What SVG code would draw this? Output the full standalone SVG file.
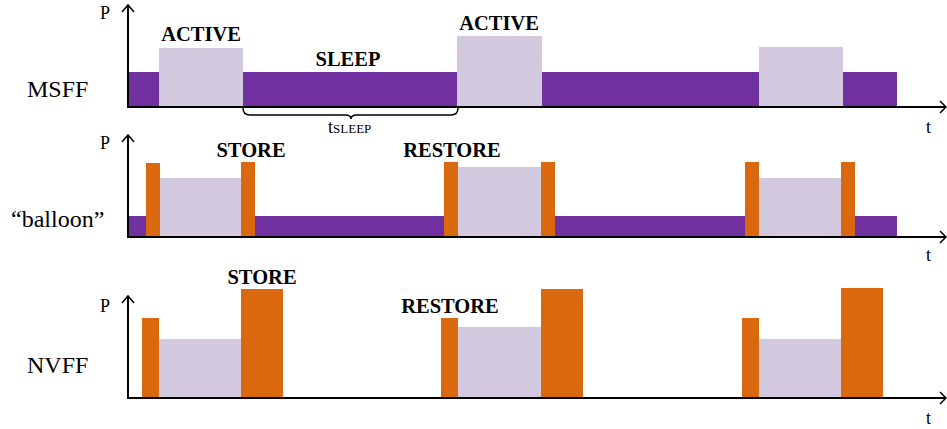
<svg xmlns="http://www.w3.org/2000/svg" width="947" height="429" viewBox="0 0 947 429">
<defs>
<style>
.ax{stroke:#000;stroke-width:2;fill:none}
.ah{stroke:#000;stroke-width:1.5;fill:none}
.pu{fill:#7030A0}
.lv{fill:#D2C9DF}
.or{fill:#D9680E}
text{font-family:"Liberation Serif","Times New Roman","DejaVu Serif",serif;fill:#000}
.lbl{font-weight:bold;font-size:20.5px}
.ttl{font-size:24px}
.axt{font-size:18px}
</style>
</defs>
<g id="msff">
<rect class="pu" x="129" y="72" width="30" height="35"/>
<rect class="lv" x="159" y="48" width="84" height="59"/>
<rect class="pu" x="243" y="72" width="214" height="35"/>
<rect class="lv" x="457" y="36" width="85" height="71"/>
<rect class="pu" x="542" y="72" width="217" height="35"/>
<rect class="lv" x="759" y="47" width="84" height="60"/>
<rect class="pu" x="843" y="72" width="54" height="35"/>
<text class="lbl" x="201" y="41" text-anchor="middle">ACTIVE</text>
<text class="lbl" x="348" y="66" text-anchor="middle">SLEEP</text>
<text class="lbl" x="499" y="30" text-anchor="middle">ACTIVE</text>
<text class="ttl" x="27" y="97">MSFF</text>
<text class="axt" x="100" y="19">P</text>
<text class="axt" x="926" y="133">t</text>
<path class="ah" d="M243,108 Q243,115 250,115 L345,115 Q351,115 351,119 Q351,115 357,115 L451,115 Q458,115 458,108"/>
<text class="axt" x="328" y="133">t<tspan font-size="13">SLEEP</tspan></text>
</g>
<g id="balloon">
<rect class="pu" x="129" y="216" width="17" height="21"/>
<rect class="or" x="146" y="163" width="14" height="74"/>
<rect class="lv" x="160" y="178" width="81" height="59"/>
<rect class="or" x="241" y="162" width="14" height="75"/>
<rect class="pu" x="255" y="216" width="189" height="21"/>
<rect class="or" x="444" y="162" width="14" height="75"/>
<rect class="lv" x="458" y="167" width="83" height="70"/>
<rect class="or" x="541" y="162" width="14" height="75"/>
<rect class="pu" x="555" y="216" width="190" height="21"/>
<rect class="or" x="745" y="162" width="14" height="75"/>
<rect class="lv" x="759" y="178" width="82" height="59"/>
<rect class="or" x="841" y="162" width="14" height="75"/>
<rect class="pu" x="855" y="216" width="42" height="21"/>
<text class="lbl" x="251" y="157" text-anchor="middle">STORE</text>
<text class="lbl" x="452" y="157" text-anchor="middle">RESTORE</text>
<text class="ttl" x="11" y="227">“balloon”</text>
<text class="axt" x="100" y="149">P</text>
<text class="axt" x="926" y="261">t</text>
</g>
<g id="nvff">
<rect class="or" x="142" y="318" width="17" height="80"/>
<rect class="lv" x="159" y="339" width="82" height="59"/>
<rect class="or" x="241" y="289" width="42" height="109"/>
<rect class="or" x="441" y="318" width="17" height="80"/>
<rect class="lv" x="458" y="327" width="83" height="71"/>
<rect class="or" x="541" y="289" width="42" height="109"/>
<rect class="or" x="742" y="318" width="17" height="80"/>
<rect class="lv" x="759" y="339" width="82" height="59"/>
<rect class="or" x="841" y="288" width="42" height="110"/>
<text class="lbl" x="262" y="284" text-anchor="middle">STORE</text>
<text class="lbl" x="450" y="313" text-anchor="middle">RESTORE</text>
<text class="ttl" x="27" y="373">NVFF</text>
<text class="axt" x="100" y="312">P</text>
<text class="axt" x="926" y="424">t</text>
</g>
<g id="connectors">
<path class="ax" d="M128,5 V107 H946"/>
<path class="ah" d="M122,12 L128,5 L134,12"/>
<path class="ah" d="M940,101 L946,107 L940,113"/>
<path class="ax" d="M128,135 V237 H946"/>
<path class="ah" d="M122,142 L128,135 L134,142"/>
<path class="ah" d="M940,231 L946,237 L940,243"/>
<path class="ax" d="M128,296 V398 H946"/>
<path class="ah" d="M122,303 L128,296 L134,303"/>
<path class="ah" d="M940,392 L946,398 L940,404"/>
</g>
</svg>
